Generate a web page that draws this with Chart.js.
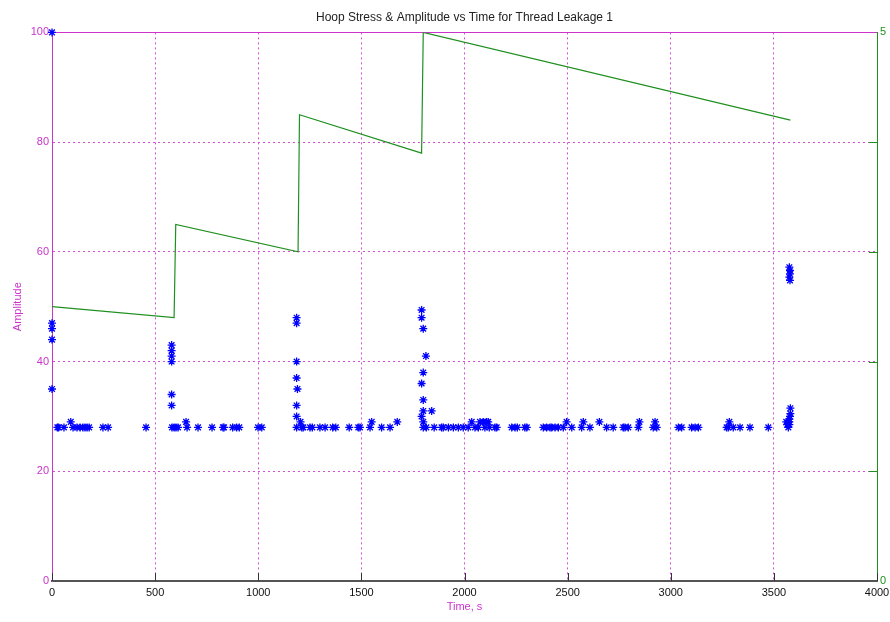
<!DOCTYPE html>
<html>
<head>
<meta charset="utf-8">
<script src="https://cdn.jsdelivr.net/npm/chart.js@4"></script>
<style>
  body { margin: 0; background: #fff; }
</style>
</head>
<body>
<canvas id="hoop" width="890" height="622"></canvas>
<script>
// amplitude hits (time s, amplitude)
const hitTime = [
    0, 0, 0, 0, 0,
    26, 32, 58, 91, 102, 121, 136, 150, 160, 170, 180, 247, 272, 456,
    580, 580, 580, 580, 580, 580,
    582, 592, 601, 611, 650, 655, 708, 776, 829, 834, 876, 895, 908, 999, 1017,
    1186, 1186, 1186, 1186, 1190, 1186, 1186, 1205,
    1186, 1211, 1218, 1251, 1262, 1299, 1324, 1361, 1376, 1441, 1485, 1493, 1542, 1550, 1598, 1639, 1674,
    1792, 1792, 1800, 1813, 1800, 1792, 1800, 1800, 1841, 1792, 1800, 1800, 1815,
    1853, 1889, 1897, 1922, 1946, 1970, 1994, 2018, 2035, 2051, 2067, 2075, 2091, 2107, 2115, 2099, 2120,
    2148, 2156, 2229, 2245, 2256, 2293, 2302, 2382, 2398, 2415, 2423, 2439, 2455, 2479, 2495, 2520,
    2568, 2576, 2608, 2654, 2689, 2721, 2770, 2778, 2794, 2843, 2848, 2915, 2924, 2932,
    3037, 3053, 3101, 3118, 3134, 3271, 3279, 3284, 3303, 3336, 3384, 3473,
    3560, 3565, 3570, 3575, 3575, 3578, 3580, 3580, 3575,
    3575, 3578, 3578, 3575, 3578
];
const hitAmp = [
    100, 47, 46, 44, 35,
    28, 28, 28, 29, 28, 28, 28, 28, 28, 28, 28, 28, 28, 28,
    43, 42, 41, 40, 34, 32,
    28, 28, 28, 28, 29, 28, 28, 28, 28, 28, 28, 28, 28, 28, 28,
    48, 47, 40, 37, 35, 32, 30, 29,
    28, 28, 28, 28, 28, 28, 28, 28, 28, 28, 28, 28, 28, 29, 28, 28, 29,
    49.4, 48, 46, 41, 38, 36, 33, 31, 31, 30, 29, 28, 28,
    28, 28, 28, 28, 28, 28, 28, 28, 29, 28, 28, 29, 29, 29, 29, 28, 28,
    28, 28, 28, 28, 28, 28, 28, 28, 28, 28, 28, 28, 28, 28, 29, 28,
    28, 29, 28, 29, 28, 28, 28, 28, 28, 28, 29, 28, 29, 28,
    28, 28, 28, 28, 28, 28, 28, 29, 28, 28, 28, 28,
    29, 28.5, 28, 28.5, 29.5, 30, 30.5, 31.5, 29,
    57.2, 56.6, 56, 55.4, 54.8
];

// hoop stress (right axis)
const stressTime = [0, 592, 600, 1193, 1200, 1792, 1800, 3580];
const stressVal = [2.5, 2.4, 3.25, 3.0, 4.25, 3.9, 5.0, 4.2];

const xTicks = [0, 500, 1000, 1500, 2000, 2500, 3000, 3500, 4000];

const magenta = '#cc33cc';
const gridMagenta = '#d64fd6';
const green = '#1f8f1f';
const font = "'Liberation Sans', Arial, sans-serif";

const hits = hitTime.map((t, i) => ({ x: t, y: hitAmp[i] }));
const stress = stressTime.map((t, i) => ({ x: t, y: stressVal[i] }));

// small inward tick marks like matlab
const innerTicks = {
    id: 'innerTicks',
    afterDraw(chart) {
        const { ctx, chartArea, scales } = chart;
        ctx.save();
        ctx.lineWidth = 1;
        ctx.strokeStyle = '#333';
        xTicks.forEach(v => {
            const px = Math.round(scales.x.getPixelForValue(v)) + 0.5;
            ctx.beginPath();
            ctx.moveTo(px, chartArea.bottom);
            ctx.lineTo(px, chartArea.bottom - 8);
            ctx.stroke();
        });
        ctx.strokeStyle = green;
        [1, 2, 3, 4].forEach(v => {
            const py = Math.round(scales.y2.getPixelForValue(v)) + 0.5;
            ctx.beginPath();
            ctx.moveTo(chartArea.right, py);
            ctx.lineTo(chartArea.right - 8, py);
            ctx.stroke();
        });
        ctx.restore();
    }
};

const ctx = document.getElementById('hoop');
const myChart = new Chart(ctx, {
    data: {
        datasets: [{
            type: 'line',
            data: stress,
            yAxisID: 'y2',
            borderColor: green,
            borderWidth: 1.2,
            pointRadius: 0,
            tension: 0,
            fill: false
        }, {
            type: 'scatter',
            data: hits,
            yAxisID: 'y',
            pointStyle: 'star',
            pointRadius: 4,
            borderColor: '#0000ff',
            backgroundColor: '#0000ff',
            borderWidth: 1.3,
            clip: false
        }]
    },
    options: {
        responsive: false,
        animation: false,
        layout: { padding: 0 },
        plugins: {
            legend: { display: false },
            tooltip: { enabled: false },
            title: {
                display: true,
                fullSize: false,
                text: 'Hoop Stress & Amplitude vs Time for Thread Leakage 1',
                color: '#222',
                font: { family: font, size: 12, weight: 'normal' },
                padding: { top: 10, bottom: 8 }
            }
        },
        scales: {
            x: {
                type: 'linear',
                position: 'bottom',
                min: 0,
                max: 4000,
                afterBuildTicks: s => { s.ticks = xTicks.map(v => ({ value: v })); },
                ticks: {
                    color: '#111', font: { family: font, size: 11 }, padding: 5, maxRotation: 0,
                    callback: v => String(v)
                },
                grid: { color: gridMagenta, drawTicks: false, tickLength: 0 },
                border: { display: true, color: '#555', width: 2, dash: [2, 3] },
                title: {
                    display: true, text: 'Time, s', color: magenta,
                    font: { family: font, size: 11 }, padding: { top: 0, bottom: 8 }
                },
                afterFit: s => { s.height = 41; s.paddingRight = 0; s.paddingLeft = 0; }
            },
            xTop: {
                type: 'linear',
                position: 'top',
                min: 0,
                max: 4000,
                ticks: { display: false },
                grid: { display: false, drawTicks: false },
                border: { display: true, color: magenta, width: 1 },
                afterFit: s => { s.height = 0; }
            },
            y: {
                position: 'left',
                min: 0,
                max: 100,
                ticks: { stepSize: 20, color: magenta, font: { family: font, size: 11 }, padding: 3 },
                grid: { color: gridMagenta, drawTicks: false, tickLength: 0 },
                border: { display: true, color: magenta, width: 1, dash: [2, 3] },
                title: {
                    display: true, text: 'Amplitude', color: magenta,
                    font: { family: font, size: 11 }, padding: { top: 11, bottom: 0 }
                },
                afterFit: s => { s.width = 52; }
            },
            y2: {
                position: 'right',
                min: 0,
                max: 5,
                ticks: {
                    stepSize: 1, color: green, font: { family: font, size: 11 }, padding: 3,
                    callback: v => (v === 0 || v === 5) ? v : ''
                },
                grid: { display: false, drawTicks: false },
                border: { display: true, color: green, width: 1 },
                afterFit: s => { s.width = 13; }
            }
        }
    },
    plugins: [innerTicks]
});
</script>
</body>
</html>
